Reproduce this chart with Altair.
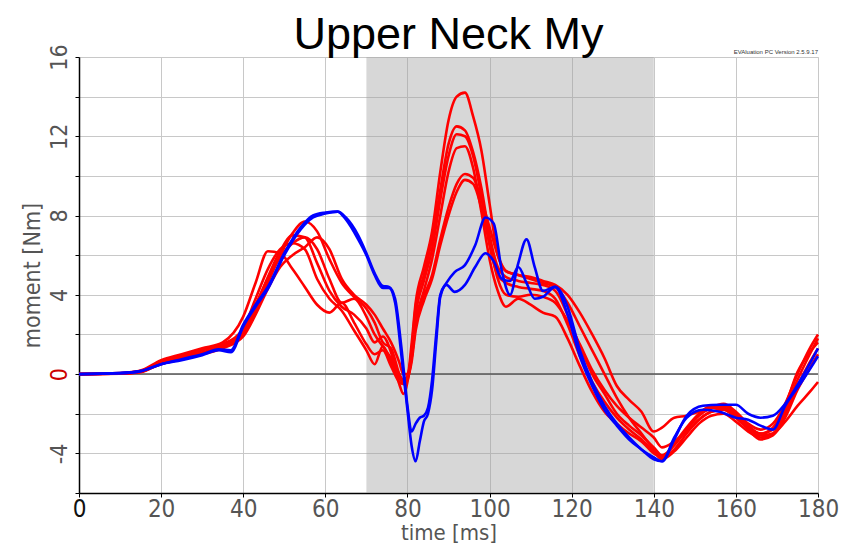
import altair as alt
import pandas as pd

# ---------------- data ----------------
T_RED = [0, 10, 15, 20, 25, 30, 35, 40, 43, 46, 49, 52, 55, 58, 61, 64, 67, 70, 72, 74,
         76, 78, 79, 80, 81, 82, 84, 86, 88, 90, 92, 94, 96, 98, 100, 102, 104, 107, 110,
         113, 116, 119, 122, 125, 128, 131, 134, 137, 140, 142, 145, 148, 151, 154, 157,
         160, 163, 166, 169, 172, 175, 178, 180]

RED_1 = [0, 0.03, 0.12, 0.6, 0.85, 1.1, 1.4, 2.0,
         3.2, 4.6, 6.0, 7.1, 7.7, 7.2, 5.8, 4.6, 3.9, 3.3, 2.6, 1.6, 1.3, 0.0, -0.5,
         -0.2, 1.5, 3.6, 5.4, 7.2, 10.2, 12.8, 14.0, 14.2, 13.0, 11.3, 8.6, 6.0, 5.2, 5.0, 4.8,
         4.6, 4.4, 3.6, 2.4, 1.2, 0.0, -1.2, -2.2, -3.0, -3.8, -4.2, -3.8, -3.0, -2.3, -1.9, -1.8,
         -2.2, -2.7, -3.0, -2.8, -1.8, -0.3, 1.0, 1.8]
RED_2 = [0, 0.04, 0.15, 0.65, 0.95, 1.25, 1.5, 2.1,
         3.4, 4.9, 6.2, 7.0, 6.9, 5.6, 4.2, 3.4, 3.0, 2.3, 1.6, 1.9, 1.1, -0.5, -1.0,
         -0.4, 1.2, 3.4, 5.0, 6.8, 9.3, 11.6, 12.5, 12.3, 11.2, 9.4, 7.0, 5.4, 4.9, 4.7, 4.6,
         4.5, 4.2, 3.0, 1.4, 0.0, -1.0, -2.0, -2.6, -3.1, -3.7, -4.1, -3.6, -2.8, -2.1, -1.7, -1.5,
         -1.9, -2.5, -2.8, -2.5, -1.5, 0.0, 1.3, 2.0]
RED_3 = [0, 0.02, 0.1, 0.55, 0.8, 1.05, 1.35, 2.2,
         3.5, 4.8, 5.9, 6.6, 6.9, 6.3, 4.8, 3.6, 3.8, 2.9, 2.0, 1.4, 0.8, 0.0, -0.3,
         -0.1, 1.0, 3.0, 4.7, 6.3, 8.8, 11.0, 12.1, 12.0, 11.0, 9.0, 6.5, 5.0, 4.6, 4.4, 4.3,
         4.2, 3.8, 2.5, 0.9, -0.4, -1.4, -2.2, -2.8, -3.3, -3.9, -4.3, -3.9, -3.2, -2.5, -2.1, -2.0,
         -2.4, -2.9, -3.2, -3.0, -2.0, -0.6, 0.6, 1.3]
RED_4 = [0, 0.03, 0.12, 0.5, 0.75, 1.0, 1.3, 1.9,
         3.0, 4.3, 5.4, 6.0, 6.4, 6.9, 6.3, 4.8, 4.0, 3.5, 3.0, 2.3, 1.6, 0.6, 0.0,
         0.0, 0.8, 2.4, 3.9, 5.0, 6.8, 8.4, 9.6, 10.1, 9.9, 8.8, 7.4, 6.0, 5.2, 5.0, 4.9,
         4.7, 4.5, 4.0, 3.1, 2.0, 0.8, -0.6, -1.3, -1.9, -2.9, -2.7, -2.2, -2.1, -1.9, -1.7, -1.7,
         -2.1, -2.7, -3.1, -3.0, -2.4, -1.6, -0.9, -0.4]
RED_5 = [0, 0.05, 0.18, 0.7, 1.0, 1.3, 1.6, 2.9,
         4.6, 6.2, 6.1, 5.3, 4.4, 3.5, 3.1, 3.6, 2.6, 1.5, 1.0, 1.2, 0.4, -0.4, -0.5,
         -0.3, 0.8, 2.6, 4.2, 5.8, 8.0, 10.2, 11.4, 11.5, 10.4, 8.2, 5.8, 4.2, 3.4, 3.8, 3.5,
         3.1, 2.9, 1.8, 0.4, -0.9, -1.9, -2.5, -3.0, -3.4, -4.0, -4.2, -3.5, -2.7, -2.0, -1.6, -1.6,
         -2.0, -2.6, -3.0, -2.7, -1.6, 0.1, 1.1, 1.6]
RED_6 = [0, 0.03, 0.14, 0.6, 0.9, 1.2, 1.5, 2.3,
         3.8, 5.3, 6.3, 6.6, 6.3, 4.8, 3.8, 3.2, 2.2, 1.2, 0.5, 1.4, 0.6, -0.2, -0.4,
         -0.2, 0.6, 2.2, 3.7, 4.8, 6.5, 8.0, 9.2, 9.8, 9.6, 8.4, 6.6, 4.8, 4.0, 3.9, 4.0,
         3.9, 3.6, 2.7, 1.5, 0.2, -0.8, -1.6, -2.2, -2.7, -3.2, -3.7, -3.4, -2.9, -2.3, -1.9, -1.8,
         -2.2, -2.8, -3.3, -3.1, -2.2, -0.8, 0.3, 1.0]

T_BLUE = [0, 10, 15, 20, 25, 30, 34, 37, 40, 43, 46, 50, 54, 57, 60, 63, 65, 68, 70, 72,
          74, 75.5, 77, 78.5, 80, 81, 82, 83, 84, 85, 86, 87, 88, 89.5, 91.5, 94, 96.5, 99,
          101, 103, 105, 107, 109, 111, 113, 116, 119, 122, 125, 128, 131, 134, 137, 140,
          142, 145, 148, 152, 156, 160, 163, 166, 169, 172, 176, 180]

BLUE_1 = [0, 0.05, 0.15, 0.5, 0.7, 0.95, 1.2, 1.1, 2.4, 3.4, 4.3, 6.0, 7.3, 7.9, 8.1, 8.2,
          7.8, 6.8, 6.0, 5.0, 4.35, 4.35, 3.6, 1.0, -1.8, -3.6, -4.4, -3.4, -2.4, -2.0, -0.8,
          1.6, 3.9, 4.5, 4.15, 4.5, 5.4, 6.1, 5.7, 4.8, 4.7, 5.4, 4.6, 3.8, 3.9, 4.4, 3.0,
          0.9, -0.6, -1.8, -2.6, -3.3, -3.8, -4.3, -4.4, -3.3, -2.1, -1.6, -1.55, -1.55, -2.0,
          -2.2, -2.1, -1.5, -0.2, 1.3]
BLUE_2 = [0, 0.05, 0.15, 0.5, 0.75, 1.0, 1.25, 1.2, 2.5, 3.5, 4.4, 6.1, 7.4, 8.0, 8.15, 8.2,
          7.9, 7.0, 6.1, 5.1, 4.45, 4.4, 3.8, 1.4, -1.6, -2.9, -2.5, -2.2, -2.1, -1.7, -0.3,
          2.0, 4.0, 4.6, 5.15, 5.5, 6.5, 7.9, 7.6, 5.2, 4.0, 5.6, 6.8, 5.4, 4.2, 4.4, 3.4,
          1.2, -0.4, -1.6, -2.5, -3.2, -3.8, -4.2, -4.4, -3.2, -2.2, -1.8, -1.9, -2.2, -2.3,
          -2.6, -2.8, -1.6, -0.4, 0.9]

BAND_START = [70]
BAND_END = [140]
ZERO = [0]
X_TICKS = list(range(0, 181, 20))
Y_TICKS = list(range(-6, 17, 2))

TITLE = "Upper Neck My"
X_TITLE = "time [ms]"
Y_TITLE = "moment [Nm]"
VERSION = "EVAluation PC Version 2.5.9.17"

# ---------------- tables ----------------
rows = []
for name, ys in [("r1", RED_1), ("r2", RED_2), ("r3", RED_3),
                 ("r4", RED_4), ("r5", RED_5), ("r6", RED_6)]:
    for t, y in zip(T_RED, ys):
        rows.append({"t": t, "y": y, "series": name})
red_df = pd.DataFrame(rows)

rows = []
for name, ys in [("b1", BLUE_1), ("b2", BLUE_2)]:
    for t, y in zip(T_BLUE, ys):
        rows.append({"t": t, "y": y, "series": name})
blue_df = pd.DataFrame(rows)

band_df = pd.DataFrame({"start": BAND_START, "end": BAND_END})
zero_df = pd.DataFrame({"v": ZERO})
ver_df = pd.DataFrame({"label": [VERSION]})
title_df = pd.DataFrame({"label": [TITLE]})

FONT = "Liberation Sans Narrow, Arial Narrow, DejaVu Sans Condensed, Liberation Sans, sans-serif"

xscale = alt.Scale(domain=[0, 180], nice=False, zero=False)
yscale = alt.Scale(domain=[-6, 16], nice=False, zero=False)

xaxis = alt.Axis(
    values=X_TICKS, grid=True, gridColor="#c8c8c8", gridWidth=1,
    domainColor="black", domainWidth=1.5, tickColor="black", tickSize=4,
    labelFont=FONT, labelFontSize=24, labelPadding=0,
    labelColor={"condition": {"test": "datum.value === 0", "value": "#111111"}, "value": "#555555"},
    labelFlush=False, labelOverlap=False,
    titleFont=FONT, titleFontSize=22, titleFontWeight="normal", titleColor="#555555",
    titlePadding=1,
)
yaxis = alt.Axis(
    values=Y_TICKS, grid=True, gridColor="#c8c8c8", gridWidth=1,
    domainColor="black", domainWidth=1.5, tickColor="black", tickSize=4,
    labelExpr="datum.value % 4 === 0 ? replace(datum.label, '\u2212', '-') : ''",
    labelAngle=270, labelAlign="center", labelBaseline="alphabetic",
    labelFont=FONT, labelFontSize=23, labelPadding=9,
    labelColor={"condition": {"test": "datum.value === 0", "value": "#cc0000"}, "value": "#555555"},
    labelFlush=False, labelOverlap=False, labelBound=False,
    titleFont=FONT, titleFontSize=23, titleFontWeight="normal", titleColor="#555555",
    titlePadding=4,
)

band = alt.Chart(band_df).mark_rect(color="#a0a0a0", opacity=0.42).encode(
    x=alt.X("start:Q", scale=xscale, axis=xaxis, title=X_TITLE),
    x2="end:Q",
)

zero = alt.Chart(zero_df).mark_rule(color="#555555", strokeWidth=1.5).encode(
    y=alt.Y("v:Q", scale=yscale, axis=yaxis, title=Y_TITLE),
)

reds = alt.Chart(red_df).mark_line(
    color="#ff0000", strokeWidth=2.6, interpolate="monotone"
).encode(
    x=alt.X("t:Q", scale=xscale, axis=xaxis, title=X_TITLE),
    y=alt.Y("y:Q", scale=yscale, axis=yaxis, title=Y_TITLE),
    detail="series:N",
)

blues = alt.Chart(blue_df).mark_line(
    color="#0000ff", strokeWidth=2.6, interpolate="monotone"
).encode(
    x=alt.X("t:Q", scale=xscale, axis=xaxis, title=X_TITLE),
    y=alt.Y("y:Q", scale=yscale, axis=yaxis, title=Y_TITLE),
    detail="series:N",
)

version = alt.Chart(ver_df).mark_text(
    align="right", baseline="bottom", fontSize=6, color="#333333",
    font="Liberation Sans, sans-serif",
).encode(
    text="label:N",
    x=alt.value(739),
    y=alt.value(-2),
)

title = alt.Chart(title_df).mark_text(
    align="center", baseline="alphabetic", fontSize=45, color="black",
    font="Liberation Sans, Arial, sans-serif",
).encode(
    text="label:N",
    x=alt.value(369.5),
    y=alt.value(-8),
)

chart = alt.layer(band, zero, reds, blues, version, title).properties(
    width=739,
    height=436,
    padding={"left": 71, "top": 49, "right": 24, "bottom": 52},
    autosize=alt.AutoSizeParams(type="none"),
).configure_view(
    stroke="#444444", strokeWidth=1,
).configure(background="white")

chart.save("out.html", embed_options={"renderer": "svg", "actions": False})
